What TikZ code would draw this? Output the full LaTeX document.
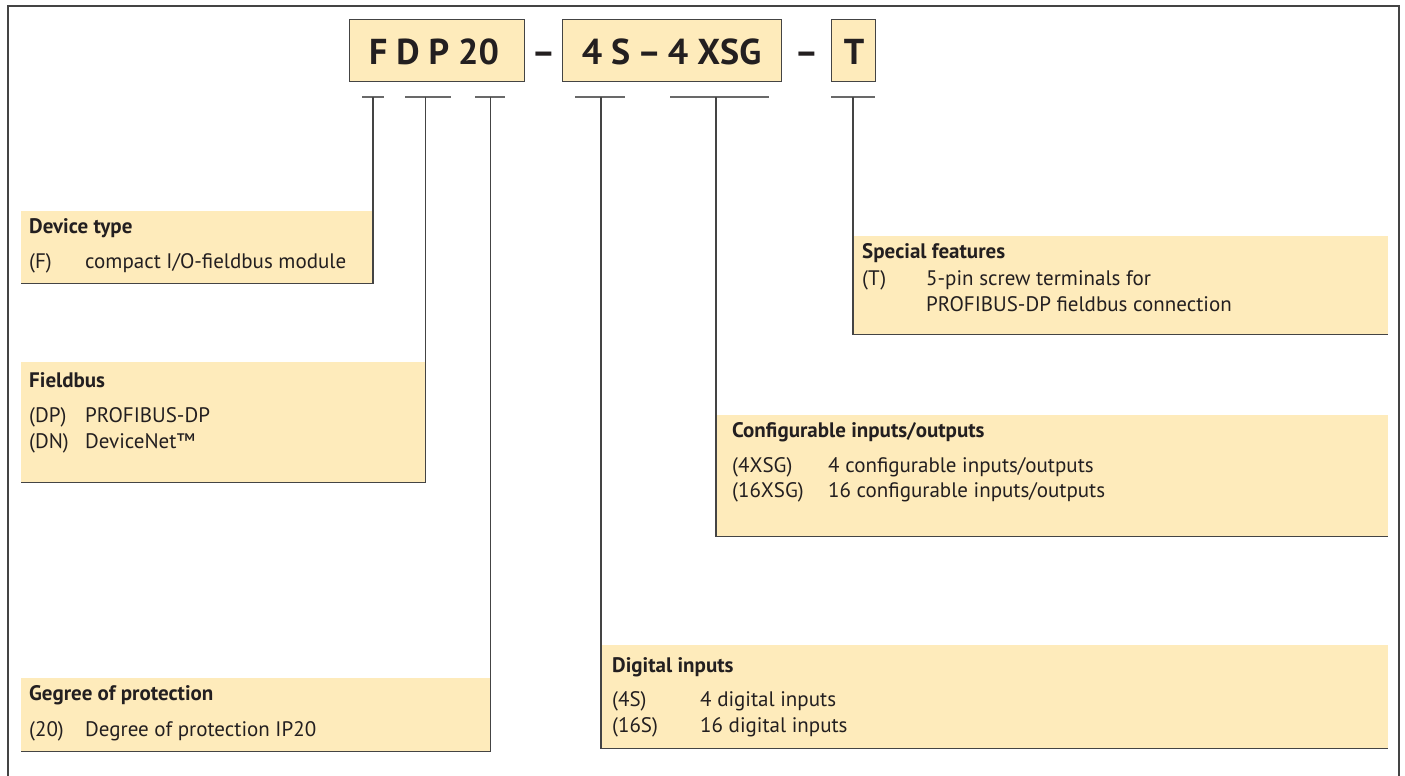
\documentclass[tikz,border=0pt]{standalone}
\usepackage{fontspec}
\setmainfont{PT Sans}
\definecolor{tan}{RGB}{254,235,187}
\definecolor{ink}{RGB}{35,31,32}
\definecolor{rule}{RGB}{68,68,68}
\definecolor{barc}{RGB}{105,105,105}
\begin{document}
\begin{tikzpicture}[x=1pt,y=-1pt,
  txt/.style={anchor=base west, inner sep=0pt, text=ink, font=\fontsize{21}{25}\selectfont},
  ttl/.style={anchor=base west, inner sep=0pt, text=ink, font=\fontsize{21}{25}\selectfont\bfseries},
  area/.style={anchor=north west, fill=tan, inner sep=0pt, draw=none},
  codebox/.style={draw=rule, line width=1.2pt, fill=tan, anchor=north west, inner sep=0pt, minimum height=62pt},
  big/.style={anchor=base, inner sep=0pt, text=ink, font=\fontsize{36}{40}\selectfont\bfseries},
  lead/.style={draw=rule, line width=1.8pt},
  barline/.style={draw=barc, line width=1.6pt}]
\useasboundingbox (0,0) rectangle (1405,776);
\draw[line width=2pt, draw=rule] (8,776) -- (8,6) -- (1399,6) -- (1399,776);

% code boxes
\node[codebox, minimum width=175pt] (c1) at (349,19) {};
\node[codebox, minimum width=219pt] (c2) at (562,19) {};
\node[codebox, minimum width=44pt] (c3) at (831,19) {};
\node[big] (c1t) at (434,64) {F\kern9pt D\kern9pt P\kern9pt 20};
\node[big] (d1) at (543.5,64) {–};
\node[big] (c2t) at (671.5,64) {4\kern9pt S\kern7pt –\kern7pt 4\kern9pt XSG};
\node[big] (d2) at (806.5,64) {–};
\node[big] (c3t) at (854,64) {T};

% description areas
\node[area, minimum width=351.5pt, minimum height=72pt] (dev) at (21,211) {};
\node[area, minimum width=404pt, minimum height=120pt] (fb) at (21,362) {};
\node[area, minimum width=469pt, minimum height=73pt] (prot) at (21,678) {};
\node[area, minimum width=787pt, minimum height=103pt] (dig) at (601,645) {};
\node[area, minimum width=672pt, minimum height=121pt] (cfg) at (716,415) {};
\node[area, minimum width=535pt, minimum height=98pt] (spc) at (853,236) {};

% bars
\coordinate (b1a) at (362,97); \coordinate (b1b) at (384,97);
\coordinate (b2a) at (405,97); \coordinate (b2b) at (451,97);
\coordinate (b3a) at (475,97); \coordinate (b3b) at (505,97);
\coordinate (b4a) at (575,97); \coordinate (b4b) at (625,97);
\coordinate (b5a) at (670,97); \coordinate (b5b) at (769,97);
\coordinate (b6a) at (831,97); \coordinate (b6b) at (875,97);
\foreach \i in {1,...,6} {\draw[barline] (b\i a) -- (b\i b);}

\coordinate (s1) at (dev.south east |- b1a);
\coordinate (s2) at (fb.south east |- b2a);
\coordinate (s3) at (prot.south east |- b3a);
\coordinate (s4) at (dig.south west |- b4a);
\coordinate (s5) at (cfg.south west |- b5a);
\coordinate (s6) at (spc.south west |- b6a);
\draw[lead] (s1) -- (dev.south east) -- (dev.south west);
\draw[lead] (s2) -- (fb.south east) -- (fb.south west);
\draw[lead] (s3) -- (prot.south east) -- (prot.south west);
\draw[lead] (s4) -- (dig.south west) -- (dig.south east);
\draw[lead] (s5) -- (cfg.south west) -- (cfg.south east);
\draw[lead] (s6) -- (spc.south west) -- (spc.south east);

% texts
\node[ttl] (devh) at (29,233) {Device type};
\node[txt] (devk) at (29,268) {(F)};
\node[txt] (devv) at (85,268) {compact I/O-fieldbus module};

\node[ttl] (fbh) at (29,387) {Fieldbus};
\node[txt] (fbk1) at (29,422) {(DP)};
\node[txt] (fbv1) at (85,422) {PROFIBUS-DP};
\node[txt] (fbk2) at (29,448) {(DN)};
\node[txt] (fbv2) at (85,448) {DeviceNet™};

\node[ttl] (proth) at (29,700) {Gegree of protection};
\node[txt] (protk) at (29,736) {(20)};
\node[txt] (protv) at (85,736) {Degree of protection IP20};

\node[ttl] (digh) at (612,672) {Digital inputs};
\node[txt] (digk1) at (612,706) {(4S)};
\node[txt] (digv1) at (700,706) {4 digital inputs};
\node[txt] (digk2) at (612,732) {(16S)};
\node[txt] (digv2) at (700,732) {16 digital inputs};

\node[ttl] (cfgh) at (732,437) {Configurable inputs/outputs};
\node[txt] (cfgk1) at (732,472) {(4XSG)};
\node[txt] (cfgv1) at (828,472) {4 configurable inputs/outputs};
\node[txt] (cfgk2) at (732,497) {(16XSG)};
\node[txt] (cfgv2) at (828,497) {16 configurable inputs/outputs};

\node[ttl] (spch) at (862,258) {Special features};
\node[txt] (spck) at (862,285) {(T)};
\node[txt] (spcv1) at (926,285) {5-pin screw terminals for};
\node[txt] (spcv2) at (926,311) {PROFIBUS-DP fieldbus connection};
\end{tikzpicture}
\end{document}
